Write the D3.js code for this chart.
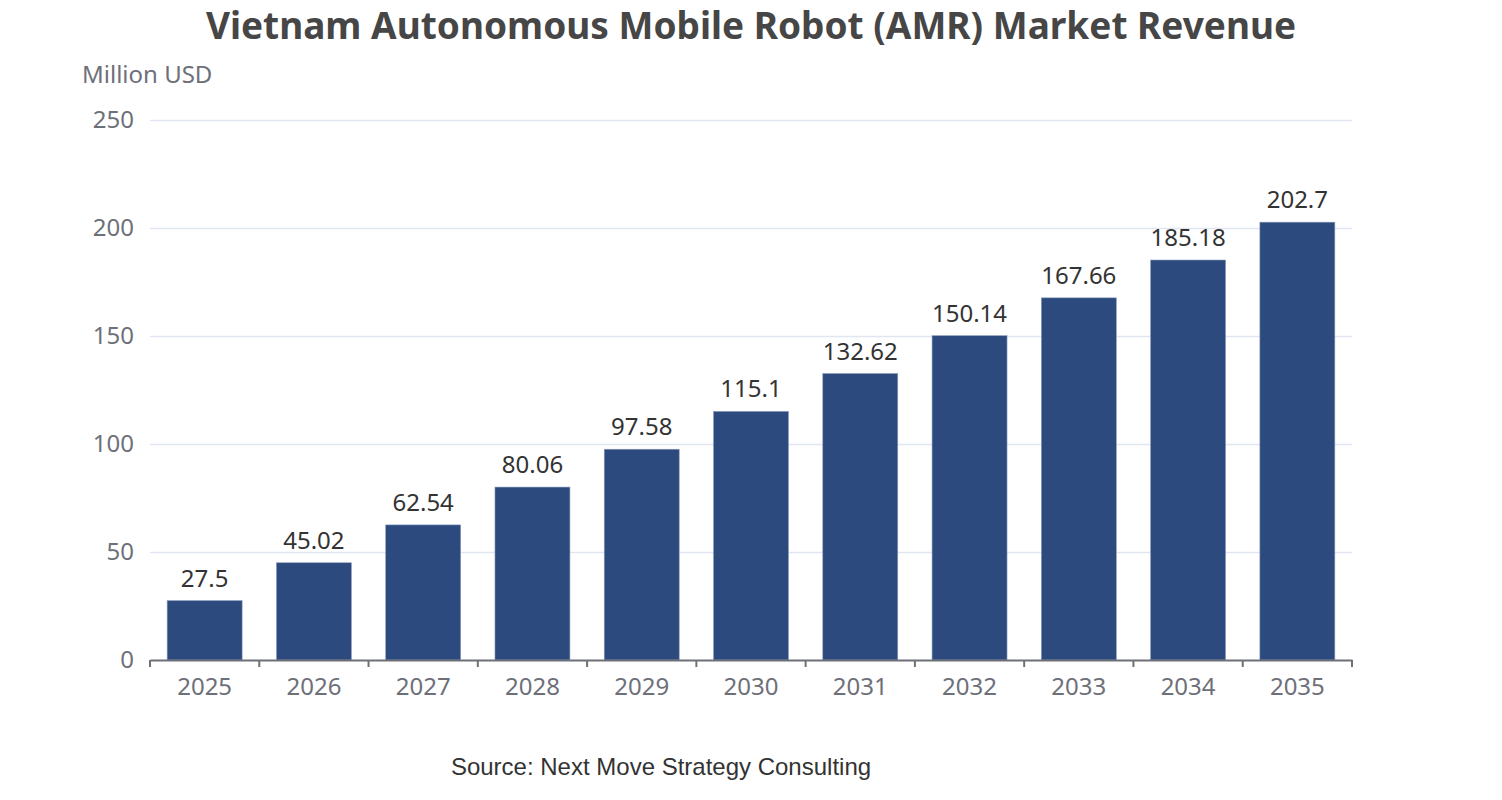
<!DOCTYPE html>
<html>
<head>
<meta charset="utf-8">
<script src="https://cdn.jsdelivr.net/npm/d3@7"></script>
<style>
  body { margin: 0; background: #fff; }
  text { font-family: "Noto Sans", "Open Sans", sans-serif; }
</style>
</head>
<body>
<script>
// chart data
var years = ["2025", "2026", "2027", "2028", "2029", "2030", "2031", "2032", "2033", "2034", "2035"];
var revenue = [27.5, 45.02, 62.54, 80.06, 97.58, 115.1, 132.62, 150.14, 167.66, 185.18, 202.7];
var yTicks = [0, 50, 100, 150, 200, 250];

var w = 1502, h = 800;
var plotLeft = 150, plotRight = 1352, plotTop = 120, plotBottom = 660;

var svg = d3.select("body").append("svg")
    .attr("width", w)
    .attr("height", h);

var x = d3.scaleBand().domain(years).range([plotLeft, plotRight]).paddingInner(0.314).paddingOuter(0.157);
var y = d3.scaleLinear().domain([0, 250]).range([plotBottom, plotTop]);

// grid lines
svg.append("g")
    .selectAll("line")
    .data(yTicks.slice(1))
    .join("line")
    .attr("x1", plotLeft)
    .attr("x2", plotRight)
    .attr("y1", function(d){ return y(d) + 0.5; })
    .attr("y2", function(d){ return y(d) + 0.5; })
    .attr("stroke", "#e0e6f1")
    .attr("stroke-width", 1.5);

// y labels
svg.append("g")
    .selectAll("text")
    .data(yTicks)
    .join("text")
    .attr("x", plotLeft - 16)
    .attr("y", function(d){ return y(d); })
    .attr("dy", "0.35em")
    .attr("text-anchor", "end")
    .attr("fill", "#6e7079")
    .style("font-size", "24px")
    .text(function(d){ return d; });

// bars
svg.append("g")
    .selectAll("rect")
    .data(revenue)
    .join("rect")
    .attr("x", function(d, i){ return x(years[i]); })
    .attr("y", function(d){ return y(d); })
    .attr("width", x.bandwidth())
    .attr("height", function(d){ return plotBottom - y(d); })
    .attr("fill", "#2c4a7e")
    .attr("stroke", "#8a9bbb")
    .attr("stroke-width", 0.6);

// value labels
svg.append("g")
    .selectAll("text")
    .data(revenue)
    .join("text")
    .attr("x", function(d, i){ return x(years[i]) + x.bandwidth() / 2; })
    .attr("y", function(d){ return y(d) - 14; })
    .attr("text-anchor", "middle")
    .attr("fill", "#333")
    .style("font-size", "24px")
    .text(function(d){ return d; });

// x axis
var xAxis = d3.axisBottom(x).tickSize(0).tickPadding(18);
var gx = svg.append("g")
    .attr("transform", "translate(0," + plotBottom + ")")
    .call(xAxis);
gx.select(".domain").attr("stroke", "#6e7079").attr("stroke-width", 2);
gx.selectAll("text")
    .attr("fill", "#6e7079")
    .style("font-size", "24px")
    .style("font-family", "'Noto Sans', 'Open Sans', sans-serif");

// boundary ticks between categories
var step = x.step();
var bounds = d3.range(years.length + 1).map(function(i){ return plotLeft + i * step; });
gx.selectAll(".bound")
    .data(bounds)
    .join("line")
    .attr("class", "bound")
    .attr("x1", function(d){ return d; })
    .attr("x2", function(d){ return d; })
    .attr("y1", 0)
    .attr("y2", 7)
    .attr("stroke", "#6e7079")
    .attr("stroke-width", 2);

// title
svg.append("text")
    .attr("x", 751)
    .attr("y", 39)
    .attr("text-anchor", "middle")
    .attr("fill", "#464646")
    .style("font-size", "37px")
    .style("font-weight", "bold")
    .text("Vietnam Autonomous Mobile Robot (AMR) Market Revenue");

// y axis name
svg.append("text")
    .attr("x", 82)
    .attr("y", 83)
    .attr("fill", "#6e7079")
    .style("font-size", "24px")
    .text("Million USD");

// source
svg.append("text")
    .attr("x", 661)
    .attr("y", 775)
    .attr("text-anchor", "middle")
    .attr("fill", "#333")
    .style("font-size", "24px")
    .style("font-family", "'Liberation Sans', Arial, sans-serif")
    .text("Source: Next Move Strategy Consulting");
</script>
</body>
</html>
